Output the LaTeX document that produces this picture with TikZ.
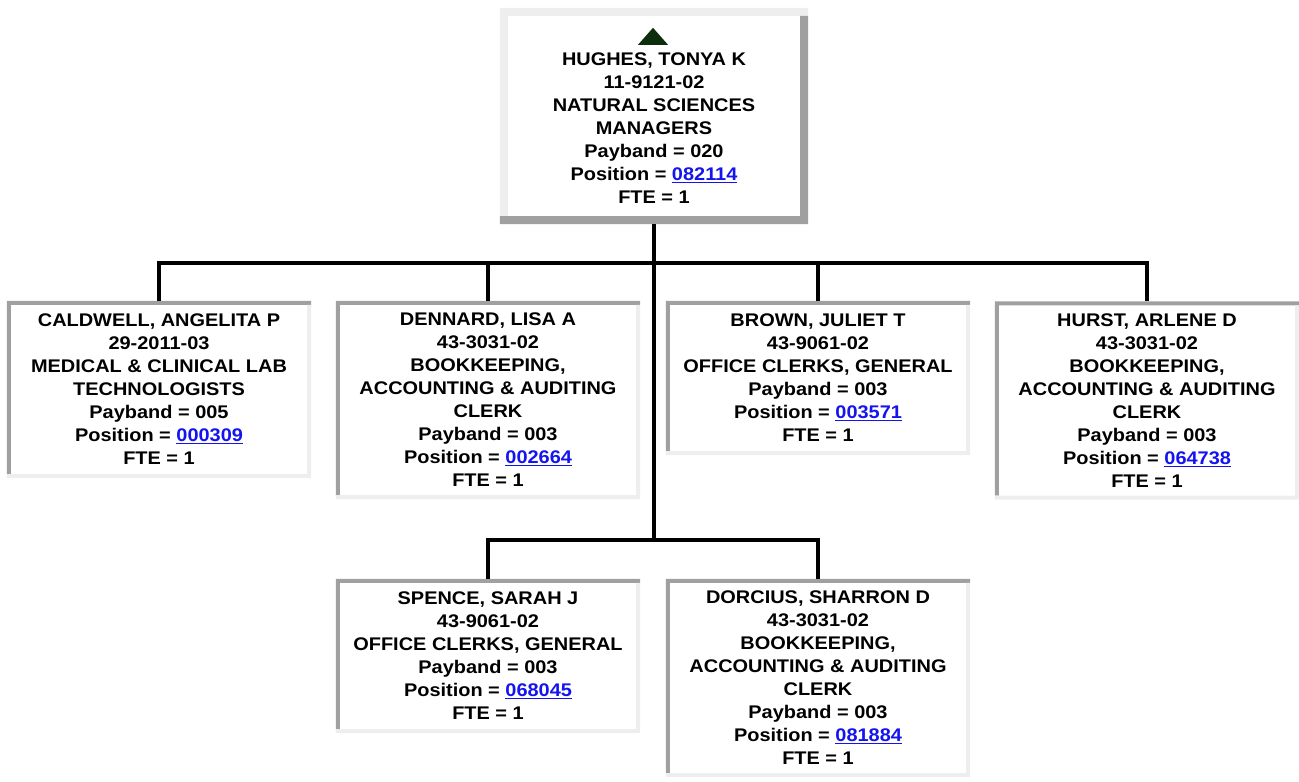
\documentclass[tikz,border=0pt]{standalone}
\usepackage{fontspec}
\setmainfont[FakeStretch=1.09]{Liberation Sans}
\usepackage{tikz}
\definecolor{edgedark}{RGB}{160,160,160}
\definecolor{edgelite}{RGB}{238,238,238}
\definecolor{linkblue}{RGB}{20,20,240}
\definecolor{upgreen}{RGB}{12,46,12}
\newcommand{\poslink}[1]{\textcolor{linkblue}{\underline{#1}}}
% bevelled frame round a node: name, top/left colour, bottom/right colour, width
\newcommand{\bevel}[4]{%
  \fill[#2] ([xshift=-#4]#1.south west) -- ([shift={(-#4,#4)}]#1.north west)
    -- ([shift={(#4,#4)}]#1.north east) -- ([xshift=#4]#1.north east)
    -- (#1.north east) -- (#1.north west) -- (#1.south west) -- cycle;
  \fill[#3] ([xshift=#4]#1.north east) -- ([shift={(#4,-#4)}]#1.south east)
    -- ([shift={(-#4,-#4)}]#1.south west) -- ([xshift=-#4]#1.south west)
    -- (#1.south west) -- (#1.south east) -- (#1.north east) -- cycle;}
\tikzset{
  orgtext/.style={align=center, font=\bfseries\fontsize{18.3}{23}\selectfont},
  emp/.style={orgtext, fill=white, inner sep=0pt, minimum width=296pt},
  wire/.style={black, line width=4pt}
}

\begin{document}
\begin{tikzpicture}[x=1pt,y=-1pt]
    \useasboundingbox (0,0) rectangle (1299,782);

    \node[fill=white, minimum width=292pt, minimum height=200pt, inner sep=0pt] (hughes) at (654,116) {};
    \node[orgtext] (hughesinfo) at (654,128) {HUGHES, TONYA K\\11-9121-02\\NATURAL SCIENCES\\MANAGERS\\Payband = 020\\Position = \poslink{082114}\\FTE = 1};

    \node[emp, minimum height=169pt] (caldwell) at (159,389.5) {CALDWELL, ANGELITA P\\29-2011-03\\MEDICAL \& CLINICAL LAB\\TECHNOLOGISTS\\Payband = 005\\Position = \poslink{000309}\\FTE = 1};
    \node[emp, minimum height=190pt] (dennard) at (488,400) {DENNARD, LISA A\\43-3031-02\\BOOKKEEPING,\\ACCOUNTING \& AUDITING\\CLERK\\Payband = 003\\Position = \poslink{002664}\\FTE = 1};
    \node[emp, minimum height=146pt] (brown) at (818,378) {BROWN, JULIET T\\43-9061-02\\OFFICE CLERKS, GENERAL\\Payband = 003\\Position = \poslink{003571}\\FTE = 1};
    \node[emp, minimum height=190pt] (hurst) at (1147,400.5) {HURST, ARLENE D\\43-3031-02\\BOOKKEEPING,\\ACCOUNTING \& AUDITING\\CLERK\\Payband = 003\\Position = \poslink{064738}\\FTE = 1};
    \node[emp, minimum height=146pt] (spence) at (488,656) {SPENCE, SARAH J\\43-9061-02\\OFFICE CLERKS, GENERAL\\Payband = 003\\Position = \poslink{068045}\\FTE = 1};
    \node[emp, minimum height=190pt] (dorcius) at (818,678) {DORCIUS, SHARRON D\\43-3031-02\\BOOKKEEPING,\\ACCOUNTING \& AUDITING\\CLERK\\Payband = 003\\Position = \poslink{081884}\\FTE = 1};

    \bevel{hughes}{edgelite}{edgedark}{8pt}
    \fill[upgreen] ([shift={(-16pt,-29pt)}]hughes.north) -- ([shift={(-1pt,-12pt)}]hughes.north) -- ([shift={(14pt,-29pt)}]hughes.north) -- cycle;
    \foreach \who in {caldwell,dennard,brown,hurst,spence,dorcius}
      \bevel{\who}{edgedark}{edgelite}{4pt};

    \coordinate (bus) at (654,263);
    \coordinate (lowbus) at (654,540);
    \draw[wire] ([yshift=-8pt]hughes.south) -- (lowbus);
    \draw[wire] ([yshift=4pt]caldwell.north) |- (bus) -| ([yshift=4pt]hurst.north);
    \draw[wire] ([yshift=4pt]dennard.north) -- (dennard.north |- bus);
    \draw[wire] ([yshift=4pt]brown.north) -- (brown.north |- bus);
    \draw[wire] ([yshift=4pt]spence.north) |- (lowbus) -| ([yshift=4pt]dorcius.north);
\end{tikzpicture}
\end{document}
